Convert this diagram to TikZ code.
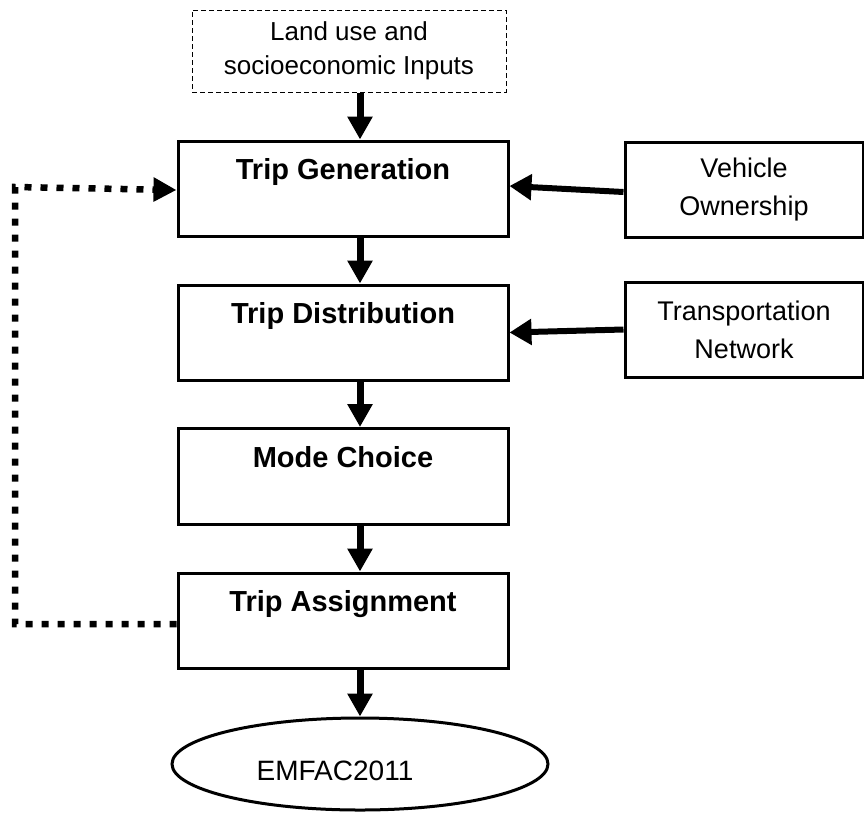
\documentclass[tikz,border=0pt]{standalone}
\usepackage{fontspec}
\setmainfont{Liberation Sans}
\usetikzlibrary{arrows.meta,shapes.geometric}
\begin{document}
\begin{tikzpicture}[x=1pt,y=-1pt,
  tbox/.style={draw, line width=3pt, minimum width=330pt, minimum height=95pt, inner sep=0pt},
  tlabel/.style={font=\fontsize{29}{33}\selectfont\bfseries, anchor=base, yshift=-40pt},
  sbox/.style={draw, line width=3pt, minimum width=238pt, minimum height=95pt, inner sep=0pt,
    align=center, font=\fontsize{27}{38}\selectfont},
  inbox/.style={draw, line width=1pt, dash pattern=on 5pt off 3pt, minimum width=314pt,
    minimum height=82pt, inner sep=0pt, align=center, font=\fontsize{26}{34}\selectfont},
  varrow/.style={line width=7pt, -{Triangle[length=23pt,width=24pt]}},
  harrow/.style={line width=6pt, -{Triangle[length=22pt,width=25pt]}},
  fbline/.style={line width=6.5pt, dash pattern=on 7pt off 9pt, -{Triangle[length=23pt,width=23pt]}}
]
\useasboundingbox (0,0) rectangle (864,812);

\node[inbox] (inp) at (349,51) {Land use and\\socioeconomic Inputs};

\node[tbox, label={[tlabel]north:Trip Generation}] (gen) at (343,188.5) {};
\node[tbox, label={[tlabel]north:Trip Distribution}] (dist) at (343,332.5) {};
\node[tbox, minimum height=96pt, label={[tlabel]north:Mode Choice}] (mode) at (343,476.5) {};
\node[tbox, label={[tlabel]north:Trip Assignment}] (asg) at (343,620.5) {};

\node[sbox] (veh) at (744,189.5) {Vehicle\\Ownership};
\node[sbox] (trn) at (744,329.5) {Transportation\\Network};

\node[draw, ellipse, line width=3pt, minimum width=376pt, minimum height=92pt, inner sep=0pt,
  label={[font=\fontsize{28}{32}\selectfont, anchor=base, xshift=-25pt, yshift=-7pt]center:EMFAC2011}]
  (emf) at (360,764) {};

\coordinate (xa) at (360,0);
\coordinate (fbc) at (15,187);

\draw[varrow] (inp.south -| xa) -- (gen.north -| xa);
\draw[varrow] (gen.south -| xa) -- (dist.north -| xa);
\draw[varrow] (dist.south -| xa) -- (mode.north -| xa);
\draw[varrow] (mode.south -| xa) -- (asg.north -| xa);
\draw[varrow] (asg.south -| xa) -- (emf.north);

\draw[harrow] ([yshift=-2.5pt]veh.west) -- ([yshift=2.5pt]gen.east);
\draw[harrow] (trn.west) -- (dist.east);

\draw[fbline] ([yshift=-3.5pt]asg.west) -| (fbc) -- ([yshift=-1.5pt]gen.west);
\end{tikzpicture}
\end{document}
